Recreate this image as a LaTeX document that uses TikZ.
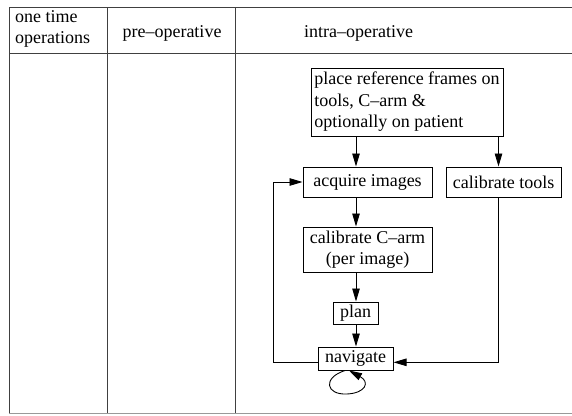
\documentclass[tikz,border=0pt]{standalone}
\usepackage{fontspec}
\setmainfont{Liberation Serif}
\usetikzlibrary{arrows.meta,calc}

\begin{document}
\begin{tikzpicture}[x=1pt,y=-1pt,
  txt/.style={font=\fontsize{18}{21.5}\selectfont, inner sep=0pt},
  stepbox/.style={draw, line width=1pt, font=\fontsize{18}{21.5}\selectfont,
    inner xsep=3pt, inner ysep=0pt, anchor=center},
  rule/.style={draw=black!75, line width=1pt},
  lightrule/.style={draw=black!40, line width=1pt},
  flow/.style={line width=0.9pt, -{Triangle[length=13pt,width=7.5pt]}},
  plain/.style={line width=0.9pt}]

\useasboundingbox (0,0) rectangle (572,415);

% table grid
\draw[rule] (9,7.5) -- (572,7.5);
\draw[rule] (9,53) -- (572,53);
\draw[rule] (9,7.5) -- (9,413);
\draw[rule] (107,7.5) -- (107,413);
\draw[rule] (235,7.5) -- (235,413);
\draw[lightrule] (9,413) -- (572,413);

% column headings
\node[txt, anchor=west, align=left] (h1) at (15,29) {one time\\operations};
\node[txt] (h2) at (172,33) {pre–operative};
\node[txt] (h3) at (358.5,33) {intra–operative};

% process steps
\node[stepbox, minimum width=192pt, minimum height=68pt, align=left] (frames) at (407,102)
  {place reference frames on\\tools, C–arm \&\\optionally on patient};
\node[stepbox, minimum width=129pt, minimum height=30pt] (acquire) at (367.5,182) {acquire images};
\node[stepbox, minimum width=115pt, minimum height=30pt] (caltools) at (503.5,182) {calibrate tools};
\node[stepbox, minimum width=129pt, minimum height=45pt, align=center] (calc) at (367.5,249.5)
  {calibrate C–arm\\(per image)};
\node[stepbox, minimum width=45pt, minimum height=22pt] (plan) at (355.5,313) {plan};
\node[stepbox, minimum width=75pt, minimum height=23pt] (nav) at (355.5,358.5) {navigate};

% guide positions for the connectors
\coordinate (ax) at (356,0);
\coordinate (bx) at (498.5,0);
\coordinate (lx) at (273,0);
\coordinate (ly) at (0,362.3);

% main flow
\draw[flow] (frames.south -| ax) -- (acquire.north -| ax);
\draw[flow] (frames.south -| bx) -- (caltools.north -| bx);
\draw[flow] (acquire.south -| ax) -- (calc.north -| ax);
\draw[flow] (calc.south -| ax) -- (plan.north -| ax);
\draw[flow] (plan.south -| ax) -- (nav.north -| ax);

% calibrated tools feed navigation
\draw[flow] (caltools.south -| bx) |- (nav.east |- ly);

% loop back to image acquisition
\draw[flow] (nav.west |- ly) -| (lx |- acquire.west) -- (acquire.west);

% navigation repeats
\coordinate (s0) at (345,370.5);
\coordinate (s1) at (349,370.5);
\draw[flow] (s0) .. controls (322,378) and (326,395) .. (347,394)
  .. controls (366,393) and (370,382) .. (s1);
\end{tikzpicture}
\end{document}
